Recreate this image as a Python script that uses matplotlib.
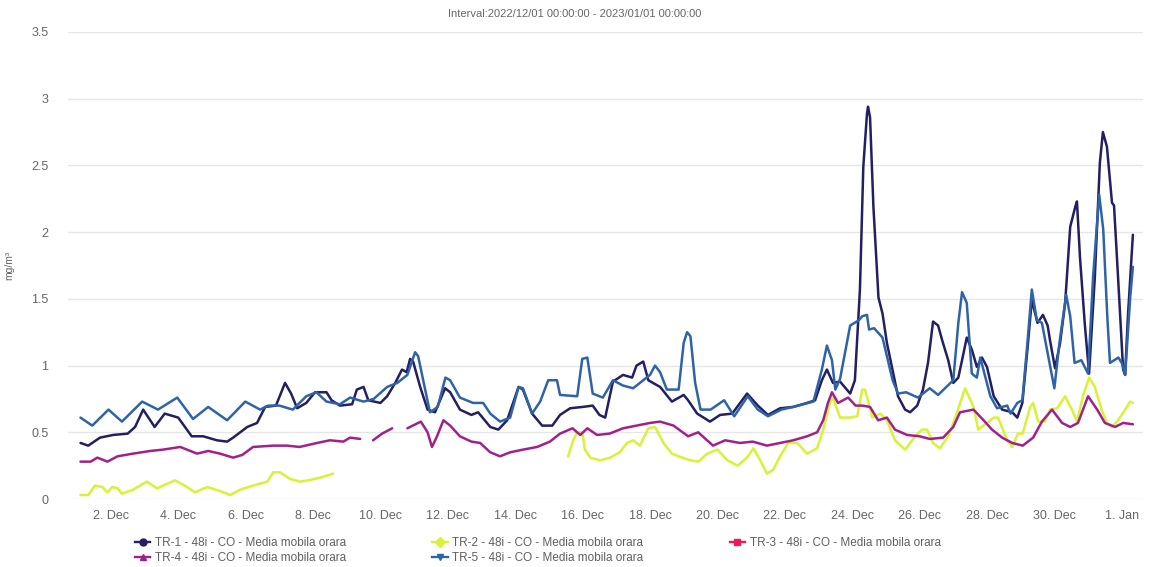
import matplotlib
matplotlib.use('Agg')
import matplotlib.pyplot as plt
from matplotlib.lines import Line2D
import numpy as np
import pandas as pd

plt.rcParams['font.family'] = ['Liberation Sans', 'DejaVu Sans']

start = pd.Timestamp('2022-12-01 00:00')
nan = np.nan

# days after 2022-12-01 00:00 and mg/m3 values
tr1_days = [0.1, 0.33, 0.68, 1.07, 1.5, 1.72, 1.96, 2.3, 2.6, 3.0, 3.4, 3.74, 4.15, 4.45, 4.63,
            5.05, 5.34, 5.5, 5.58, 5.9, 6.17, 6.35, 6.53, 6.8, 7.06, 7.4, 7.55, 7.8, 8.16, 8.3,
            8.5, 8.64, 9.0, 9.2, 9.44, 9.64, 9.78, 9.88, 9.97, 10.18, 10.4, 10.62, 10.92, 11.07,
            11.36, 11.7, 11.9, 12.26, 12.5, 12.76, 13.1, 13.23, 13.5, 13.8, 14.1, 14.33, 14.63,
            15.0, 15.3, 15.5, 15.67, 15.9, 16.2, 16.47, 16.6, 16.8, 16.95, 17.3, 17.65, 18.0,
            18.13, 18.4, 18.78, 19.08, 19.44, 19.88, 20.2, 20.5, 20.86, 21.25, 21.66, 21.9, 22.1,
            22.25, 22.43, 22.64, 22.94, 23.08, 23.23, 23.33, 23.44, 23.47, 23.53, 23.63, 23.78,
            23.9, 24.03, 24.18, 24.36, 24.57, 24.72, 24.93, 25.1, 25.25, 25.4, 25.55, 25.67,
            25.85, 26.0, 26.15, 26.26, 26.4, 26.55, 26.7, 26.85, 27.0, 27.2, 27.45, 27.75, 27.9,
            28.05, 28.2, 28.33, 28.5, 28.66, 28.8, 28.87, 29.02, 29.17, 29.32, 29.47, 29.62,
            29.67, 29.76, 29.9, 30.03, 30.2, 30.35, 30.44, 30.56, 30.71, 30.77, 30.89, 31.04,
            31.1, 31.18, 31.33]
tr1_vals = [0.42, 0.40, 0.46, 0.48, 0.49, 0.54, 0.67, 0.54, 0.64, 0.61, 0.47, 0.47, 0.44, 0.43, 0.46,
            0.54, 0.57, 0.65, 0.69, 0.70, 0.87, 0.79, 0.68, 0.72, 0.80, 0.80, 0.74, 0.70, 0.71, 0.82,
            0.84, 0.74, 0.72, 0.77, 0.87, 0.97, 0.95, 1.05, 1.03, 0.84, 0.67, 0.65, 0.83, 0.80,
            0.67, 0.63, 0.65, 0.54, 0.52, 0.59, 0.84, 0.82, 0.64, 0.55, 0.55, 0.63, 0.68,
            0.69, 0.70, 0.63, 0.61, 0.88, 0.93, 0.91, 1.00, 1.03, 0.89, 0.84, 0.73, 0.78,
            0.74, 0.64, 0.58, 0.63, 0.64, 0.79, 0.70, 0.63, 0.68, 0.69, 0.72, 0.74, 0.89,
            0.97, 0.87, 0.88, 0.79, 0.89, 1.57, 2.49, 2.89, 2.94, 2.86, 2.19, 1.51,
            1.39, 1.17, 0.99, 0.77, 0.67, 0.65, 0.70, 0.82, 1.02, 1.33, 1.30, 1.19,
            1.04, 0.87, 0.91, 1.04, 1.21, 1.12, 0.99, 1.06, 0.99, 0.77, 0.67, 0.65, 0.61,
            0.72, 1.12, 1.49, 1.32, 1.38, 1.30, 1.19, 0.98, 1.17, 1.47, 2.04, 2.19,
            2.23, 1.81, 1.32, 0.94, 1.66, 2.52, 2.75, 2.64, 2.22, 2.20, 1.66, 0.97,
            0.93, 1.36, 1.98]

tr2_days = [0.1, 0.33, 0.53, 0.75, 0.9, 1.04, 1.2, 1.33, 1.66, 2.07, 2.37, 2.9, 3.2, 3.5, 3.86,
            4.24, 4.54, 4.84, 5.22, 5.64, 5.82, 6.02, 6.32, 6.62, 6.86, 7.21, 7.6, 11.0,
            14.57, 14.72, 14.84, 14.99, 15.07, 15.23, 15.52, 15.82, 16.1, 16.32, 16.5, 16.7,
            16.95, 17.15, 17.4, 17.65, 17.85, 18.2, 18.43, 18.7, 19.0, 19.3, 19.6, 19.88, 20.07,
            20.27, 20.47, 20.66, 20.86, 21.1, 21.37, 21.66, 21.96, 22.14, 22.34, 22.43, 22.64,
            22.94, 23.15, 23.3, 23.38, 23.6, 23.83, 24.03, 24.27, 24.57, 24.87, 25.07, 25.22,
            25.4, 25.6, 25.85, 26.1, 26.35, 26.6, 26.74, 27.0, 27.2, 27.33, 27.6, 27.75, 27.92,
            28.06, 28.28, 28.37, 28.52, 28.72, 28.87, 29.08, 29.32, 29.52, 29.67, 29.85, 30.03,
            30.2, 30.4, 30.56, 30.71, 30.89, 31.1, 31.25, 31.33]
tr2_vals = [0.03, 0.03, 0.10, 0.09, 0.05, 0.09, 0.08, 0.04, 0.07, 0.13, 0.08, 0.14, 0.10, 0.05, 0.09,
            0.06, 0.03, 0.07, 0.10, 0.13, 0.20, 0.20, 0.15, 0.13, 0.14, 0.16, 0.19, nan,
            0.32, 0.44, 0.50, 0.50, 0.37, 0.31, 0.29, 0.31, 0.35, 0.42, 0.44, 0.40,
            0.53, 0.54, 0.42, 0.34, 0.32, 0.29, 0.28, 0.34, 0.37, 0.29, 0.25, 0.31, 0.38,
            0.29, 0.19, 0.22, 0.32, 0.42, 0.42, 0.34, 0.38, 0.52, 0.72, 0.76, 0.61,
            0.61, 0.62, 0.82, 0.82, 0.61, 0.64, 0.59, 0.44, 0.37, 0.47, 0.52, 0.52,
            0.42, 0.38, 0.47, 0.64, 0.83, 0.69, 0.52, 0.57, 0.61, 0.61, 0.44, 0.39, 0.49,
            0.49, 0.69, 0.72, 0.58, 0.58, 0.67, 0.68, 0.77, 0.67, 0.58, 0.77, 0.91,
            0.84, 0.67, 0.57, 0.54, 0.59, 0.67, 0.73, 0.72]

tr3_days = []
tr3_vals = []

tr4_days = [0.1, 0.4, 0.6, 0.9, 1.2, 1.66, 2.17, 2.55, 3.06, 3.56, 3.89, 4.24, 4.63, 4.9, 5.22,
            5.82, 6.23, 6.6, 7.12, 7.5, 7.9, 8.1, 8.4, 8.6, 8.78, 9.05, 9.35, 9.6, 9.8, 10.2,
            10.4, 10.53, 10.68, 10.87, 11.07, 11.36, 11.7, 11.96, 12.26, 12.55, 12.85, 13.23,
            13.65, 14.03, 14.33, 14.7, 14.93, 15.14, 15.43, 15.8, 16.2, 16.6, 17.0, 17.3, 17.7,
            18.13, 18.43, 18.87, 19.23, 19.67, 20.05, 20.47, 20.86, 21.25, 21.66, 21.96, 22.14,
            22.28, 22.4, 22.58, 22.88, 23.1, 23.3, 23.53, 23.77, 24.03, 24.27, 24.63, 25.0,
            25.3, 25.7, 26.0, 26.2, 26.6, 26.9, 27.15, 27.45, 27.75, 28.06, 28.37, 28.63, 28.93,
            29.23, 29.47, 29.7, 30.0, 30.27, 30.5, 30.8, 31.04, 31.33]
tr4_vals = [0.28, 0.28, 0.31, 0.28, 0.32, 0.34, 0.36, 0.37, 0.39, 0.34, 0.36, 0.34, 0.31, 0.33, 0.39,
            0.40, 0.40, 0.39, 0.42, 0.44, 0.43, 0.46, 0.45, nan, 0.44, 0.49, 0.53, nan, 0.53, 0.58,
            0.50, 0.39, 0.47, 0.59, 0.55, 0.47, 0.43, 0.42, 0.35, 0.32, 0.35, 0.37,
            0.39, 0.43, 0.49, 0.53, 0.48, 0.53, 0.48, 0.49, 0.53, 0.55, 0.57, 0.58, 0.55,
            0.47, 0.50, 0.40, 0.44, 0.42, 0.43, 0.40, 0.42, 0.44, 0.47, 0.50, 0.59,
            0.72, 0.80, 0.72, 0.76, 0.70, 0.70, 0.69, 0.59, 0.61, 0.52, 0.48, 0.47,
            0.45, 0.46, 0.54, 0.65, 0.67, 0.59, 0.52, 0.46, 0.42, 0.40, 0.46, 0.58, 0.67,
            0.57, 0.54, 0.57, 0.77, 0.67, 0.57, 0.54, 0.57, 0.56]

tr5_days = [0.1, 0.45, 0.93, 1.33, 1.93, 2.4, 2.97, 3.44, 3.89, 4.45, 4.99, 5.43, 5.67, 6.0, 6.4,
            6.8, 7.1, 7.4, 7.8, 8.1, 8.5, 8.8, 9.2, 9.5, 9.8, 10.03, 10.12, 10.47, 10.7, 10.93,
            11.07, 11.36, 11.75, 12.05, 12.26, 12.55, 12.85, 13.1, 13.23, 13.5, 13.74, 13.98,
            14.24, 14.33, 14.84, 14.99, 15.14, 15.3, 15.6, 15.9, 16.2, 16.5, 16.7, 17.0, 17.15,
            17.3, 17.5, 17.85, 18.0, 18.1, 18.2, 18.34, 18.5, 18.8, 19.2, 19.5, 19.9, 20.2, 20.5,
            20.9, 21.25, 21.55, 21.85, 22.1, 22.25, 22.4, 22.5, 22.64, 22.94, 23.2, 23.3, 23.44,
            23.5, 23.65, 23.9, 24.2, 24.36, 24.6, 24.95, 25.3, 25.55, 26.0, 26.15, 26.26, 26.4,
            26.55, 26.7, 26.8, 27.1, 27.3, 27.6, 27.7, 27.9, 28.05, 28.2, 28.33, 28.48, 28.63,
            28.78, 29.0, 29.15, 29.35, 29.47, 29.6, 29.8, 30.0, 30.15, 30.33, 30.45, 30.57,
            30.65, 30.9, 31.0, 31.1, 31.25, 31.33]
tr5_vals = [0.61, 0.55, 0.67, 0.58, 0.73, 0.67, 0.76, 0.60, 0.69, 0.59, 0.73, 0.67, 0.70, 0.70, 0.67,
            0.77, 0.80, 0.73, 0.71, 0.76, 0.73, 0.75, 0.84, 0.87, 0.93, 1.10, 1.07, 0.65, 0.69, 0.91,
            0.89, 0.76, 0.72, 0.72, 0.64, 0.58, 0.61, 0.84, 0.83, 0.64, 0.73, 0.89,
            0.89, 0.78, 0.77, 1.05, 1.06, 0.79, 0.76, 0.89, 0.85, 0.83, 0.87, 0.93, 1.00,
            0.95, 0.82, 0.82, 1.17, 1.25, 1.22, 0.87, 0.67, 0.67, 0.74, 0.62, 0.77, 0.67, 0.62,
            0.67, 0.69, 0.71, 0.73, 0.97, 1.15, 1.04, 0.82, 0.90, 1.30, 1.34, 1.37, 1.38,
            1.27, 1.28, 1.21, 0.89, 0.79, 0.80, 0.76, 0.83, 0.78, 0.89, 1.32, 1.55, 1.47,
            0.94, 0.91, 1.06, 0.77, 0.68, 0.70, 0.64, 0.72, 0.74, 1.17, 1.57, 1.34, 1.32,
            1.12, 0.83, 1.17, 1.53, 1.37, 1.02, 1.04, 0.94, 1.67, 2.28, 2.02, 1.37,
            1.02, 1.06, 1.02, 0.93, 1.51, 1.74]

names = ['TR-1 - 48i - CO - Media mobila orara', 'TR-2 - 48i - CO - Media mobila orara',
         'TR-3 - 48i - CO - Media mobila orara', 'TR-4 - 48i - CO - Media mobila orara',
         'TR-5 - 48i - CO - Media mobila orara']
colors = ['#221f62', '#d8f236', '#f0185c', '#a1218c', '#2f63a8']
markers = ['o', 'D', 's', '^', 'v']
series = [(tr1_days, tr1_vals), (tr2_days, tr2_vals), (tr3_days, tr3_vals),
          (tr4_days, tr4_vals), (tr5_days, tr5_vals)]

fig = plt.figure(figsize=(11.52, 5.67), dpi=100)
ax = fig.add_axes([68/1152, 68/567, 1075/1152, 467/567])

handles = []
for (d, v), c, m, n in zip(series, colors, markers, names):
    t = start + pd.to_timedelta(np.array(d, dtype=float), unit='D')
    ax.plot(t, np.array(v, dtype=float), color=c, lw=1.8,
            solid_joinstyle='round', solid_capstyle='round')
    handles.append(Line2D([], [], color=c, lw=1.7, marker=m, markersize=5, label=n))

ax.set_ylim(0, 3.5)
ax.set_yticks(np.arange(0, 3.51, 0.5))
ax.set_yticklabels(['0', '0.5', '1', '1.5', '2', '2.5', '3', '3.5'])
ax.set_xlim(start - pd.Timedelta(hours=6.5), start + pd.Timedelta(days=31.63))

ticks = list(pd.date_range('2022-12-02', '2022-12-30', freq='2D')) + [pd.Timestamp('2023-01-01')]
ax.set_xticks(ticks)
ax.set_xticklabels([f'{t.day}. {t.strftime("%b")}' for t in ticks])

ax.grid(axis='y', color='#e6e6e6', lw=1)
ax.set_axisbelow(True)
for s in ax.spines.values():
    s.set_visible(False)
ax.tick_params(length=0, colors='#666666', labelsize=9)
ax.tick_params(axis='y', pad=14)
ax.tick_params(axis='x', pad=8)
ax.set_ylabel('mg/m³', fontsize=7.5, color='#666666', labelpad=12)

fig.text(0.499, 1 - 14/567, 'Interval:2022/12/01 00:00:00 - 2023/01/01 00:00:00',
         ha='center', va='center', fontsize=8, color='#666666')

order = [0, 3, 1, 4, 2]
fig.legend([handles[i] for i in order], [names[i] for i in order], ncol=3,
           loc='upper left', bbox_to_anchor=(129/1152, 1 - 531/567), frameon=False,
           fontsize=8.5, labelcolor='#606060', handlelength=1.3, handletextpad=0.4,
           columnspacing=7.3, labelspacing=0.25, borderpad=0)

fig.savefig('out.png', dpi=100)
